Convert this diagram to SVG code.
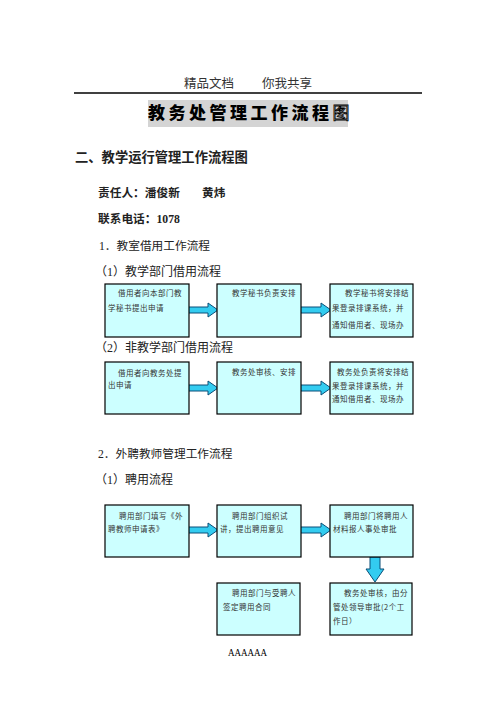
<svg xmlns="http://www.w3.org/2000/svg" width="496" height="702" viewBox="0 0 496 702">
<defs>
<style>
.hd{font-family:"Liberation Serif","Noto Sans CJK SC",serif;font-size:12.5px;fill:#333}
.t{font-family:"Liberation Serif","Noto Sans CJK SC",serif;fill:#222}
.b{font-weight:bold}
.bx{fill:#ccffff;stroke:#000;stroke-width:1.2}
.bt{font-family:"Noto Sans CJK SC",sans-serif;font-size:7.5px;fill:#333;letter-spacing:0.5px}
.arr{fill:#33ccf0;stroke:#0b4f78;stroke-width:1}
</style>
</defs>
<rect width="496" height="702" fill="#fff"/>
<text class="hd" x="184" y="87.5">精品文档</text>
<text class="hd" x="262" y="87.5">你我共享</text>
<line x1="74" y1="93" x2="422" y2="93" stroke="#000" stroke-width="1.3"/>
<rect x="148" y="100" width="200" height="27" fill="#d4d4d4"/>
<text x="148" y="119" font-family="'Noto Sans CJK SC',sans-serif" font-size="17" font-weight="900" letter-spacing="3.5" fill="#000">教务处管理工作流程<tspan fill="none" stroke="#000" stroke-width="0.8" font-weight="400">图</tspan></text>
<text class="t b" x="75" y="162" font-size="13.3">二、教学运行管理工作流程图</text>
<text class="t b" x="98" y="197" font-size="11.7">责任人：潘俊新</text>
<text class="t b" x="202" y="197" font-size="11.7">黄炜</text>
<text class="t b" x="98" y="223" font-size="11.7">联系电话：1078</text>
<text class="t" x="99" y="249.5" font-size="11.7">1．教室借用工作流程</text>
<text class="t" x="95" y="275.5" font-size="12">（1）教学部门借用流程</text>
<text class="t" x="95" y="352" font-size="12">（2）非教学部门借用流程</text>
<text class="t" x="98" y="457.5" font-size="11.7">2．外聘教师管理工作流程</text>
<text class="t" x="95" y="483.5" font-size="12">（1）聘用流程</text>

<g id="connectors">
<path class="arr" d="M187,307 H208 V303 L218,310 L208,317 V313 H187 Z"/>
<path class="arr" d="M299,307 H321 V303 L331,310 L321,317 V313 H299 Z"/>
<path class="arr" d="M187,385 H208 V381 L218,388 L208,395 V391 H187 Z"/>
<path class="arr" d="M299,385 H321 V381 L331,388 L321,395 V391 H299 Z"/>
<path class="arr" d="M187,527 H208 V523 L218,530 L208,537 V533 H187 Z"/>
<path class="arr" d="M299,527 H321 V523 L331,530 L321,537 V533 H299 Z"/>
<path class="arr" d="M370,557 V569 H366 L375,582 L384,569 H380 V557 Z"/>
</g>

<g id="n1">
<rect class="bx" x="105" y="284" width="84" height="53"/>
<text class="bt" x="118" y="296">借用者向本部门教</text>
<text class="bt" x="108" y="310.5">学秘书提出申请</text>
</g>
<g id="n2">
<rect class="bx" x="217" y="284" width="84" height="53"/>
<text class="bt" x="232" y="296">教学秘书负责安排</text>
</g>
<g id="n3">
<rect class="bx" x="330" y="284" width="83" height="53"/>
<text class="bt" x="345" y="296">教学秘书将安排结</text>
<text class="bt" x="332" y="311">果登录排课系统，并</text>
<text class="bt" x="332" y="328">通知借用者、现场办</text>
</g>

<g id="n4">
<rect class="bx" x="105" y="362" width="84" height="52"/>
<text class="bt" x="118" y="375.5">借用者向教务处提</text>
<text class="bt" x="108" y="388">出申请</text>
</g>
<g id="n5">
<rect class="bx" x="217" y="362" width="84" height="52"/>
<text class="bt" x="232" y="375">教务处审核、安排</text>
</g>
<g id="n6">
<rect class="bx" x="330" y="362" width="83" height="52"/>
<text class="bt" x="337" y="374.5">教务处负责将安排结</text>
<text class="bt" x="332" y="389">果登录排课系统，并</text>
<text class="bt" x="332" y="402">通知借用者、现场办</text>
</g>

<g id="n7">
<rect class="bx" x="105" y="505" width="84" height="52"/>
<text class="bt" x="119" y="518.5">聘用部门填写《外</text>
<text class="bt" x="108" y="532">聘教师申请表》</text>
</g>
<g id="n8">
<rect class="bx" x="217" y="505" width="84" height="52"/>
<text class="bt" x="232" y="518.5" letter-spacing="1.3">聘用部门组织试</text>
<text class="bt" x="220" y="532">讲，提出聘用意见</text>
</g>
<g id="n9">
<rect class="bx" x="330" y="505" width="83" height="52"/>
<text class="bt" x="344" y="518.5">聘用部门将聘用人</text>
<text class="bt" x="333" y="532">材料报人事处审批</text>
</g>

<g id="n10">
<rect class="bx" x="217" y="583" width="83" height="52"/>
<text class="bt" x="232" y="596">聘用部门与受聘人</text>
<text class="bt" x="223" y="610">签定聘用合同</text>
</g>
<g id="n11">
<rect class="bx" x="330" y="583" width="82" height="52"/>
<text class="bt" x="344" y="596">教务处审核，由分</text>
<text class="bt" x="333" y="610" letter-spacing="0.2">管处领导审批(2个工</text>
<text class="bt" x="333" y="623.5">作日）</text>
</g>

<text x="228" y="656" font-family="'Liberation Serif',serif" font-size="11" textLength="39" lengthAdjust="spacingAndGlyphs" fill="#000">AAAAAA</text>
</svg>
